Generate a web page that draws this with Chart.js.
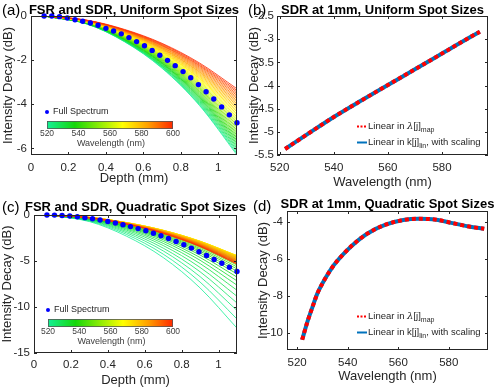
<!DOCTYPE html>
<html>
<head>
<meta charset="utf-8">
<script src="https://cdn.jsdelivr.net/npm/chart.js@4.4.1/dist/chart.umd.min.js"></script>
<style>
  html, body { margin: 0; padding: 0; background: #fff; }
  #wrap { position: relative; width: 500px; height: 388px; overflow: hidden; }
  canvas { position: absolute; }
</style>
</head>
<body>
<div id="wrap">
  <canvas id="pa" width="250" height="194" style="left:0;top:0"></canvas>
  <canvas id="pb" width="256" height="194" style="left:244px;top:0"></canvas>
  <canvas id="pc" width="250" height="194" style="left:0;top:194px"></canvas>
  <canvas id="pd" width="256" height="194" style="left:244px;top:194px"></canvas>
</div>
<script>
// ---- data ----
const curveDepth = [0.07, 0.3, 0.5, 0.7, 0.9, 1.1];
const curveWave = [520, 522, 524, 526, 528, 530, 532, 534, 536, 538, 540, 542, 544, 546, 548, 550,
  552, 554, 556, 558, 560, 562, 564, 566, 568, 570, 572, 574, 576, 578, 580, 582, 584, 586, 588,
  590, 592, 594, 596, 598, 600];

// (a) one curve per wavelength, values at curveDepth
const uniformCurves = [
  [0, -0.37, -1.17, -2.37, -4.06, -6.30], [0, -0.36, -1.16, -2.34, -4.02, -6.23],
  [0, -0.36, -1.14, -2.31, -3.97, -6.15], [0, -0.35, -1.13, -2.28, -3.92, -6.08],
  [0, -0.35, -1.12, -2.26, -3.87, -6.00], [0, -0.34, -1.10, -2.23, -3.82, -5.93],
  [0, -0.34, -1.09, -2.20, -3.77, -5.85], [0, -0.33, -1.07, -2.17, -3.72, -5.78],
  [0, -0.33, -1.06, -2.14, -3.68, -5.70], [0, -0.33, -1.05, -2.12, -3.63, -5.63],
  [0, -0.32, -1.03, -2.09, -3.58, -5.55], [0, -0.32, -1.02, -2.06, -3.53, -5.48],
  [0, -0.31, -1.00, -2.03, -3.48, -5.40], [0, -0.31, -0.99, -2.00, -3.43, -5.33],
  [0, -0.30, -0.98, -1.97, -3.39, -5.25], [0, -0.30, -0.96, -1.95, -3.34, -5.18],
  [0, -0.30, -0.95, -1.92, -3.29, -5.10], [0, -0.29, -0.93, -1.89, -3.24, -5.03],
  [0, -0.29, -0.92, -1.86, -3.19, -4.95], [0, -0.28, -0.91, -1.83, -3.14, -4.88],
  [0, -0.28, -0.89, -1.80, -3.10, -4.80], [0, -0.27, -0.88, -1.78, -3.05, -4.73],
  [0, -0.27, -0.86, -1.75, -3.00, -4.65], [0, -0.27, -0.85, -1.72, -2.95, -4.58],
  [0, -0.26, -0.84, -1.69, -2.90, -4.50], [0, -0.26, -0.82, -1.66, -2.85, -4.43],
  [0, -0.25, -0.81, -1.64, -2.81, -4.35], [0, -0.25, -0.80, -1.61, -2.76, -4.28],
  [0, -0.24, -0.78, -1.58, -2.71, -4.20], [0, -0.24, -0.77, -1.55, -2.66, -4.13],
  [0, -0.23, -0.75, -1.52, -2.61, -4.05], [0, -0.23, -0.74, -1.49, -2.56, -3.98],
  [0, -0.23, -0.73, -1.47, -2.52, -3.90], [0, -0.22, -0.71, -1.44, -2.47, -3.83],
  [0, -0.22, -0.70, -1.41, -2.42, -3.75], [0, -0.21, -0.68, -1.38, -2.37, -3.68],
  [0, -0.21, -0.67, -1.35, -2.32, -3.60], [0, -0.20, -0.66, -1.33, -2.27, -3.53],
  [0, -0.20, -0.64, -1.30, -2.23, -3.45], [0, -0.20, -0.63, -1.27, -2.18, -3.38],
  [0, -0.19, -0.61, -1.24, -2.13, -3.30]
];

// (c) one curve per wavelength, values at curveDepth
const quadCurves = [
  [0, -0.71, -2.29, -4.62, -7.93, -12.30], [0, -0.66, -2.10, -4.25, -7.29, -11.31],
  [0, -0.60, -1.93, -3.90, -6.70, -10.38], [0, -0.56, -1.78, -3.60, -6.17, -9.57],
  [0, -0.51, -1.64, -3.32, -5.70, -8.84], [0, -0.47, -1.52, -3.08, -5.28, -8.18],
  [0, -0.44, -1.42, -2.87, -4.92, -7.63], [0, -0.42, -1.33, -2.69, -4.62, -7.16],
  [0, -0.39, -1.26, -2.54, -4.35, -6.75], [0, -0.37, -1.19, -2.41, -4.13, -6.40],
  [0, -0.35, -1.14, -2.30, -3.94, -6.11], [0, -0.34, -1.09, -2.20, -3.78, -5.86],
  [0, -0.33, -1.05, -2.12, -3.64, -5.64], [0, -0.32, -1.01, -2.05, -3.51, -5.44],
  [0, -0.31, -0.98, -1.98, -3.40, -5.27], [0, -0.30, -0.95, -1.93, -3.30, -5.12],
  [0, -0.29, -0.93, -1.87, -3.21, -4.98], [0, -0.28, -0.90, -1.83, -3.13, -4.86],
  [0, -0.28, -0.89, -1.79, -3.07, -4.76], [0, -0.27, -0.87, -1.75, -3.01, -4.66],
  [0, -0.27, -0.85, -1.73, -2.96, -4.59], [0, -0.26, -0.84, -1.71, -2.93, -4.54],
  [0, -0.26, -0.84, -1.69, -2.90, -4.49], [0, -0.26, -0.83, -1.67, -2.87, -4.45],
  [0, -0.26, -0.82, -1.67, -2.86, -4.43], [0, -0.26, -0.82, -1.66, -2.85, -4.42],
  [0, -0.26, -0.82, -1.66, -2.85, -4.42], [0, -0.26, -0.83, -1.67, -2.87, -4.45],
  [0, -0.26, -0.84, -1.69, -2.90, -4.50], [0, -0.26, -0.85, -1.71, -2.94, -4.56],
  [0, -0.27, -0.86, -1.74, -2.99, -4.63], [0, -0.27, -0.87, -1.77, -3.03, -4.70],
  [0, -0.28, -0.89, -1.79, -3.08, -4.77], [0, -0.28, -0.90, -1.82, -3.13, -4.85],
  [0, -0.29, -0.92, -1.85, -3.17, -4.92], [0, -0.29, -0.93, -1.88, -3.22, -4.99],
  [0, -0.29, -0.94, -1.90, -3.26, -5.06], [0, -0.30, -0.95, -1.93, -3.31, -5.13],
  [0, -0.30, -0.97, -1.96, -3.35, -5.20], [0, -0.31, -0.98, -1.98, -3.40, -5.27],
  [0, -0.31, -0.99, -2.01, -3.44, -5.34]
];

// full spectrum markers
const spectrumDepth = [0.07, 0.111, 0.152, 0.194, 0.235, 0.276, 0.317, 0.358, 0.4, 0.441, 0.482,
  0.523, 0.564, 0.606, 0.647, 0.688, 0.729, 0.77, 0.812, 0.853, 0.894, 0.935, 0.976, 1.018, 1.059, 1.1];
const uniformSpectrum = [0, 0, -0.03, -0.09, -0.17, -0.24, -0.32, -0.42, -0.56, -0.68, -0.81,
  -0.98, -1.16, -1.35, -1.56, -1.78, -2.01, -2.25, -2.52, -2.8, -3.11, -3.43, -3.76, -4.12, -4.48, -4.84];
const quadSpectrum = [0, -0.01, -0.05, -0.11, -0.19, -0.29, -0.41, -0.55, -0.7, -0.87, -1.06,
  -1.26, -1.48, -1.72, -1.98, -2.26, -2.56, -2.88, -3.23, -3.6, -3.99, -4.4, -4.83, -5.25, -5.68, -6.14];

// SDR at 1 mm
const sdrWaveUniform = [522, 530, 540, 550, 560, 570, 580, 590, 594];
const sdrUniform = [-5.37, -5.06, -4.68, -4.33, -3.99, -3.65, -3.31, -2.97, -2.84];
const sdrWaveQuad = [522, 524, 526, 528, 531, 534, 538, 542, 548, 555, 562, 568, 575, 581, 588, 594];
const sdrQuad = [-10.35, -9.41, -8.61, -7.86, -7.07, -6.42, -5.77, -5.23, -4.6, -4.14, -3.89,
  -3.82, -3.87, -4.04, -4.24, -4.36];

// tick labels
const depthTicks = [0, 0.2, 0.4, 0.6, 0.8, 1];
const waveTicks = [520, 540, 560, 580];
const colorbarTicks = [520, 540, 560, 580, 600];
const yTicksA = [0, -2, -4, -6];
const yTicksB = [-2.5, -3, -3.5, -4, -4.5, -5, -5.5];
const yTicksC = [0, -5, -10, -15];
const yTicksD = [-4, -6, -8, -10];

// ---- styling ----
const SANS = '"Liberation Sans", Arial, Helvetica, sans-serif';
const INK = '#262626';
const cmapStops = [[0, [20, 240, 150]], [0.22, [20, 215, 10]], [0.6, [255, 255, 0]],
  [0.8, [255, 160, 0]], [1, [255, 40, 0]]];

function cmap(t) {
  for (let i = 1; i < cmapStops.length; i++) {
    const [t1, c1] = cmapStops[i];
    const [t0, c0] = cmapStops[i - 1];
    if (t <= t1) {
      const f = (t - t0) / (t1 - t0);
      const c = c0.map((v, k) => Math.round(v + (c1[k] - v) * f));
      return `rgb(${c[0]},${c[1]},${c[2]})`;
    }
  }
  return 'rgb(255,40,0)';
}
const waveColor = w => cmap((w - 520) / 80);

// box, inward ticks, panel tag, title and the custom legends
const matlabFrame = {
  id: 'matlabFrame',
  afterDraw(chart, args, o) {
    const { ctx, chartArea: a, scales } = chart;
    ctx.save();
    ctx.strokeStyle = INK;
    ctx.lineWidth = 1;
    ctx.strokeRect(a.left + 0.5, a.top + 0.5, a.width - 1, a.height - 1);
    ctx.beginPath();
    scales.x.ticks.forEach(t => {
      const px = Math.round(scales.x.getPixelForValue(t.value)) + 0.5;
      ctx.moveTo(px, a.bottom); ctx.lineTo(px, a.bottom - 3);
      ctx.moveTo(px, a.top); ctx.lineTo(px, a.top + 3);
    });
    scales.y.ticks.forEach(t => {
      const py = Math.round(scales.y.getPixelForValue(t.value)) + 0.5;
      ctx.moveTo(a.left, py); ctx.lineTo(a.left + 3, py);
      ctx.moveTo(a.right, py); ctx.lineTo(a.right - 3, py);
    });
    ctx.stroke();

    ctx.fillStyle = '#000';
    ctx.textBaseline = 'alphabetic';
    ctx.textAlign = 'left';
    ctx.font = '15px ' + SANS;
    ctx.fillText(o.tag, o.tagX, o.tagY);
    ctx.textAlign = 'center';
    ctx.font = 'bold 13px ' + SANS;
    ctx.fillText(o.title, (a.left + a.right) / 2, o.titleY);

    if (o.spectrum) drawSpectrumLegend(ctx, o.spectrum);
    if (o.methods) drawMethodLegend(ctx, o.methods);
    ctx.restore();
  }
};

function drawSpectrumLegend(ctx, s) {
  ctx.fillStyle = '#0000ff';
  ctx.beginPath();
  ctx.arc(s.dotX, s.dotY, 2, 0, Math.PI * 2);
  ctx.fill();
  ctx.fillStyle = INK;
  ctx.font = '9px ' + SANS;
  ctx.textAlign = 'left';
  ctx.textBaseline = 'middle';
  ctx.fillText('Full Spectrum', s.dotX + 6, s.dotY);

  const g = ctx.createLinearGradient(s.barX, 0, s.barX + s.barW, 0);
  cmapStops.forEach(([t]) => g.addColorStop(t, cmap(t)));
  ctx.fillStyle = g;
  ctx.fillRect(s.barX, s.barY, s.barW, s.barH);
  ctx.strokeStyle = '#555';
  ctx.lineWidth = 0.8;
  ctx.strokeRect(s.barX + 0.5, s.barY + 0.5, s.barW - 1, s.barH - 1);

  ctx.fillStyle = '#404040';
  ctx.font = '8.5px ' + SANS;
  ctx.textAlign = 'center';
  colorbarTicks.forEach(v => {
    const x = s.barX + (v - 520) / 80 * s.barW;
    ctx.fillText(String(v), x, s.barY + s.barH + 5);
  });
  ctx.font = '9px ' + SANS;
  ctx.fillText('Wavelength (nm)', s.barX + s.barW / 2 + 1, s.barY + s.barH + 15);
}

function drawMethodLegend(ctx, m) {
  const entries = [
    { color: '#ff0000', dash: [2, 1.5], parts: [['Linear in ', 'n'], ['\u03bb', 'g'], ['[j]', 'n'], ['map', 's']] },
    { color: '#0072bd', dash: [], parts: [['Linear in k[j]', 'n'], ['lin', 's'], [', with scaling', 'n']] }
  ];
  entries.forEach((e, i) => {
    const y = m.y[i];
    ctx.strokeStyle = e.color;
    ctx.lineWidth = 2;
    ctx.setLineDash(e.dash);
    ctx.beginPath();
    ctx.moveTo(m.x, y + 0.5);
    ctx.lineTo(m.x + 10, y + 0.5);
    ctx.stroke();
    ctx.setLineDash([]);
    let x = m.x + 11;
    ctx.fillStyle = INK;
    ctx.textAlign = 'left';
    ctx.textBaseline = 'middle';
    e.parts.forEach(([txt, kind]) => {
      if (kind === 's') {
        ctx.font = '7px ' + SANS;
        ctx.fillText(txt, x, y + 4);
      } else if (kind === 'g') {
        ctx.font = 'italic 10px "DejaVu Serif", serif';
        ctx.fillText(txt, x, y);
      } else {
        ctx.font = '9.5px ' + SANS;
        ctx.fillText(txt, x, y);
      }
      x += ctx.measureText(txt).width;
    });
  });
}

Chart.register(matlabFrame);

function axis(pos, min, max, ticks, title, fitSize, titlePad, tickPad) {
  return {
    type: 'linear', position: pos, min: min, max: max,
    afterBuildTicks: s => { s.ticks = ticks.map(v => ({ value: v })); },
    afterFit: s => { if (pos === 'left') s.width = fitSize; else s.height = fitSize; },
    grid: { display: false, drawTicks: false },
    border: { display: false },
    ticks: {
      callback: v => String(v), color: INK, padding: tickPad,
      font: { family: SANS, size: 11.5 }, maxRotation: 0, autoSkip: false
    },
    title: {
      display: true, text: title, color: INK,
      font: { family: SANS, size: 13 }, padding: titlePad
    }
  };
}

function curveSets(curves) {
  return curves.map((vals, i) => ({
    data: vals.map((v, j) => ({ x: curveDepth[j], y: v })),
    borderColor: waveColor(curveWave[i]),
    borderWidth: 0.8,
    pointRadius: 0,
    cubicInterpolationMode: 'monotone',
    order: 100 - i
  }));
}

function spectrumSet(vals) {
  return {
    data: vals.map((v, j) => ({ x: spectrumDepth[j], y: v })),
    showLine: false,
    pointRadius: 2.7,
    pointBorderWidth: 0,
    pointBackgroundColor: '#0000ff',
    clip: false,
    order: 0
  };
}

function sdrSets(wave, vals) {
  const pts = vals.map((v, j) => ({ x: wave[j], y: v }));
  return [
    { data: pts, borderColor: '#ff0000', borderWidth: 4, borderDash: [4, 3], borderCapStyle: 'butt',
      pointRadius: 0, cubicInterpolationMode: 'monotone', order: 0 },
    { data: pts, borderColor: '#0072bd', borderWidth: 4, pointRadius: 0,
      cubicInterpolationMode: 'monotone', order: 1 }
  ];
}

function panel(id, area, datasets, x, y, frame) {
  const el = document.getElementById(id);
  return new Chart(el, {
    type: 'line',
    data: { datasets: datasets },
    options: {
      responsive: false,
      animation: false,
      layout: { padding: { left: 0, top: area.t, right: el.width - area.r, bottom: 0 } },
      scales: { x: x, y: y },
      plugins: { legend: { display: false }, tooltip: { enabled: false }, matlabFrame: frame }
    }
  });
}

// (a)
panel('pa', { l: 31, r: 237, t: 16, b: 155 },
  [spectrumSet(uniformSpectrum)].concat(curveSets(uniformCurves)),
  axis('bottom', 0, 1.1, depthTicks, 'Depth (mm)', 194 - 155, { top: 0, bottom: 8 }, 6),
  axis('left', -6.3, 0, yTicksA, 'Intensity Decay (dB)', 31, { top: 1, bottom: 0 }, 4),
  { tag: '(a)', tagX: 2, tagY: 15, title: 'FSR and SDR, Uniform Spot Sizes', titleY: 14,
    spectrum: { dotX: 47, dotY: 112, barX: 47, barY: 121, barW: 126, barH: 8 } });

// (b)  canvas starts at page x 244
panel('pb', { l: 33, r: 244, t: 16, b: 155 },
  sdrSets(sdrWaveUniform, sdrUniform),
  axis('bottom', 519, 597, waveTicks, 'Wavelength (nm)', 194 - 155, { top: 0, bottom: 4 }, 6),
  axis('left', -5.5, -2.5, yTicksB, 'Intensity Decay (dB)', 33, { top: 3, bottom: 0 }, 3),
  { tag: '(b)', tagX: 4, tagY: 15, title: 'SDR at 1mm, Uniform Spot Sizes', titleY: 14,
    methods: { x: 113, y: [126, 142] } });

// (c)
panel('pc', { l: 34, r: 237, t: 21, b: 159 },
  [spectrumSet(quadSpectrum)].concat(curveSets(quadCurves)),
  axis('bottom', 0, 1.1, depthTicks, 'Depth (mm)', 194 - 159, { top: 0, bottom: 0 }, 5),
  axis('left', -15, 0, yTicksC, 'Intensity Decay (dB)', 34, { top: 0, bottom: 0 }, 4),
  { tag: '(c)', tagX: 2, tagY: 18, title: 'FSR and SDR, Quadratic Spot Sizes', titleY: 17,
    spectrum: { dotX: 48, dotY: 116, barX: 48, barY: 125, barW: 125, barH: 8 } });

// (d)  canvas starts at page x 244
panel('pd', { l: 43, r: 244, t: 17, b: 156 },
  sdrSets(sdrWaveQuad, sdrQuad),
  axis('bottom', 516, 595.5, waveTicks, 'Wavelength (nm)', 194 - 156, { top: 0, bottom: 4 }, 6),
  axis('left', -10.9, -3.4, yTicksD, 'Intensity Decay (dB)', 43, { top: 12, bottom: 0 }, 4),
  { tag: '(d)', tagX: 9, tagY: 17, title: 'SDR at 1mm, Quadratic Spot Sizes', titleY: 14,
    methods: { x: 113, y: [122, 138] } });
</script>
</body>
</html>
